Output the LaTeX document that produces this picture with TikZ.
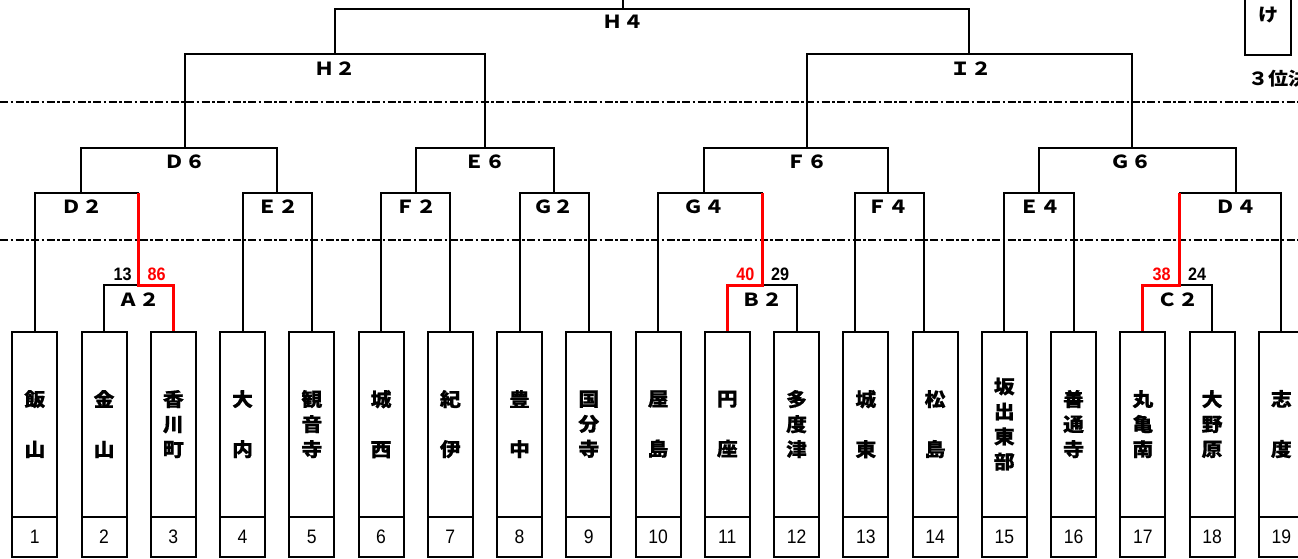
\documentclass[tikz,border=0pt]{standalone}
\usepackage{fontspec}
\newfontfamily\jp[FakeStretch=1.12]{Noto Sans CJK JP}
\newfontfamily\jpname[FakeStretch=1.1,FakeBold=0.6]{Noto Sans CJK JP}
\newfontfamily\numf{Liberation Sans}
\newfontfamily\numn[FakeStretch=0.9]{Liberation Sans}
\definecolor{winred}{RGB}{255,0,0}
\begin{document}
\begin{tikzpicture}[x=1pt,y=-1pt,
  br/.style={line width=2pt, line join=miter, black},
  win/.style={line width=3pt, line join=miter, winred},
  sep/.style={line width=1.8pt, dash pattern=on 8pt off 2.5pt on 2.5pt off 2.5pt},
  namebox/.style={draw, line width=2pt, minimum width=45pt, minimum height=185.2pt, inner sep=0pt, align=center, font={\jpname\bfseries\fontsize{19}{25}\selectfont}},
  numbox/.style={draw, line width=2pt, minimum width=45pt, minimum height=39.8pt, inner sep=0pt, font={\numn\fontsize{19.5}{20}\selectfont}},
  rlabel/.style={inner sep=0pt, font={\jp\bfseries\fontsize{18}{20}\selectfont}},
  score/.style={inner sep=0pt, font={\numn\bfseries\fontsize{18}{18}\selectfont}},
  wscore/.style={score, text=winred}]
\clip (0,0) rectangle (1298,558);
\fill[white] (0,0) rectangle (1298,558);

% separators
\draw[sep] (0,101.7) -- (1298,101.7);
\draw[sep] (0,240) -- (1298,240);

% team boxes
\foreach \nm [count=\i] in {{飯\\[25pt]山},{金\\[25pt]山},{香\\川\\町},{大\\[25pt]内},{観\\音\\寺},{城\\[25pt]西},{紀\\[25pt]伊},{豊\\[25pt]中},{国\\分\\寺},{屋\\[25pt]島},{円\\[25pt]座},{多\\度\\津},{城\\[25pt]東},{松\\[25pt]島},{坂\\出\\東\\部},{善\\通\\寺},{丸\\亀\\南},{大\\野\\原},{志\\[25pt]度}} {
  \pgfmathsetmacro\xx{34.8+(\i-1)*69.25}
  \node[namebox] (b\i) at (\xx,424.1) {\nm};
  \node[numbox] (n\i) at (\xx,536.6) {\i};
}

% third place box
\node[rlabel] (ke) at (1269,15) {け};
\draw[br] (1245,-3) |- (1291,55) -- (1291,-3);
\node[rlabel, anchor=west] (third) at (1248,79) {３位決};

% upper rounds
\draw[br] (623,-3) -- (623,8.5);
\draw[br] (335,54) |- (969,8.5) -- (969,54);
\draw[br] (185,148) |- (485,54) -- (485,148);
\draw[br] (807,148) |- (1132,54) -- (1132,148);
\draw[br] (81,193) |- (277,148) -- (277,193);
\draw[br] (416,193) |- (554,148) -- (554,193);
\draw[br] (704,193) |- (888,148) -- (888,193);
\draw[br] (1039,193) |- (1236,148) -- (1236,193);

% second round
\coordinate (L) at (0,193);
\coordinate (d2r) at (138.7,193);
\coordinate (a2w) at (138.7,285);
\coordinate (g4r) at (762.5,193);
\coordinate (b2w) at (762.5,285);
\coordinate (d4l) at (1179,193);
\coordinate (c2w) at (1179,285);

\draw[br] (b1.north) |- (d2r);
\draw[br] (b4.north) |- (L -| b5.north) -- (b5.north);
\draw[br] (b6.north) |- (L -| b7.north) -- (b7.north);
\draw[br] (b8.north) |- (L -| b9.north) -- (b9.north);
\draw[br] (b10.north) |- (g4r);
\draw[br] (855,330.5) |- (924,193) -- (924,330.5);
\draw[br] (b15.north) |- (L -| b16.north) -- (b16.north);
\draw[br] (d4l) -| (b19.north);

% first round
\draw[br] (b2.north) |- (a2w);
\draw[br] (b2w) -| (b12.north);
\draw[br] (c2w) -| (b18.north);
\draw[win] (b3.north) |- (a2w) -- (d2r);
\draw[win] (b11.north) |- (b2w) -- (g4r);
\draw[win] (b17.north) |- (c2w) -- (d4l);

% round labels
\node[rlabel] (lH4) at (623,22) {Ｈ４};
\node[rlabel] (lH2) at (335,69) {Ｈ２};
\node[rlabel] (lI2) at (971,69) {Ｉ２};
\node[rlabel] (lD6) at (185,162) {Ｄ６};
\node[rlabel] (lE6) at (485,162) {Ｅ６};
\node[rlabel] (lF6) at (807,162) {Ｆ６};
\node[rlabel] (lG6) at (1131,162) {Ｇ６};
\node[rlabel] (lD2) at (82,207) {Ｄ２};
\node[rlabel] (lE2) at (278,207) {Ｅ２};
\node[rlabel] (lF2) at (416,207) {Ｆ２};
\node[rlabel] (lG2) at (553.5,207) {Ｇ２};
\node[rlabel] (lG4) at (704,207) {Ｇ４};
\node[rlabel] (lF4) at (888,207) {Ｆ４};
\node[rlabel] (lE4) at (1040,207) {Ｅ４};
\node[rlabel] (lD4) at (1236,207) {Ｄ４};
\node[rlabel] (lA2) at (139,299.5) {Ａ２};
\node[rlabel] (lB2) at (762,300) {Ｂ２};
\node[rlabel] (lC2) at (1178,300) {Ｃ２};

% scores
\node[score] (s13) at (122.7,274.3) {13};
\node[wscore] (s86) at (156.7,274.3) {86};
\node[wscore] (s40) at (745.4,274.3) {40};
\node[score] (s29) at (780,274.3) {29};
\node[wscore] (s38) at (1161.7,274.3) {38};
\node[score] (s24) at (1197,274.3) {24};
\end{tikzpicture}
\end{document}
